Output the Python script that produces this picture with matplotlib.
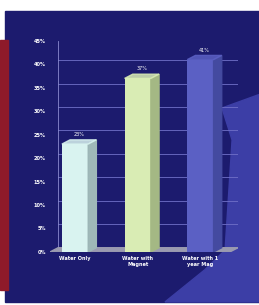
import matplotlib.pyplot as plt
from matplotlib.patches import Polygon, Rectangle

categories = ["Water Only", "Water with\nMagnet", "Water with 1\nyear Mag"]
values = [23, 37, 41]
value_labels = ["23%", "37%", "41%"]
bar_colors = ["#d9f3f0", "#d9ecb4", "#5b60c4"]
side_colors = ["#9fb8b8", "#a4b884", "#444aa0"]
yticks = list(range(0, 50, 5))

fig = plt.figure(figsize=(2.59, 3.05), dpi=100)
fig.patch.set_facecolor("white")

# fond bleu marine, bande rouge, forme claire en bas a droite
fig.add_artist(Rectangle((0.02, 0.01), 0.98, 0.955, transform=fig.transFigure,
                         color="#1c1b6e", zorder=0))
fig.add_artist(Rectangle((0.0, 0.05), 0.03, 0.82, transform=fig.transFigure,
                         color="#8e1a2a", zorder=0))
fig.add_artist(Polygon([(0.857, 0.646), (1.0, 0.69), (1.0, 0.01), (0.637, 0.01),
                        (0.79, 0.115), (0.869, 0.18), (0.896, 0.541)], closed=True,
                       transform=fig.transFigure, color="#3c3ea6", zorder=0))

ax = fig.add_axes([0.193, 0.174, 0.726, 0.692])
ax.set_facecolor("none")
ax.set_xlim(-0.4, 2.6)
ax.set_ylim(0, 45)

dx, dy = 0.13, 0.9
width = 0.42

# grille et sol
for t in yticks:
    ax.plot([-0.4 + dx, 2.6], [t + dy, t + dy], color="#7070c8", lw=0.6, zorder=1)
ax.plot([-0.4 + dx, -0.4 + dx], [dy, 45], color="#8a8ad0", lw=0.6, zorder=1)
ax.add_patch(Polygon([(-0.4, 0), (2.6 - dx, 0), (2.6, dy), (-0.4 + dx, dy)],
                     closed=True, color="#9a9ab0", zorder=2))

bars = ax.bar(range(len(values)), values, width=width, color=bar_colors, zorder=3)
for i, (b, v) in enumerate(zip(bars, values)):
    x1 = b.get_x() + b.get_width()
    ax.add_patch(Polygon([(x1, 0), (x1 + dx, dy), (x1 + dx, v + dy), (x1, v)],
                         closed=True, color=side_colors[i], zorder=3))
    ax.add_patch(Polygon([(b.get_x(), v), (x1, v), (x1 + dx, v + dy),
                          (b.get_x() + dx, v + dy)], closed=True,
                         color=bar_colors[i], alpha=0.85, zorder=3))
    ax.text(i + dx / 2, v + dy + 0.6, value_labels[i], color="white",
            fontsize=3.5, ha="center", va="bottom", zorder=4)

ax.set_yticks(yticks)
ax.set_yticklabels([f"{t}%" for t in yticks], color="white", fontsize=3.6,
                   fontweight="bold")
ax.set_xticks(range(len(categories)))
ax.set_xticklabels(categories, color="white", fontsize=3.6, fontweight="bold")
ax.tick_params(axis="both", length=0, pad=3)
for s in ax.spines.values():
    s.set_visible(False)

fig.savefig("out.png", dpi=100, facecolor=fig.get_facecolor())
